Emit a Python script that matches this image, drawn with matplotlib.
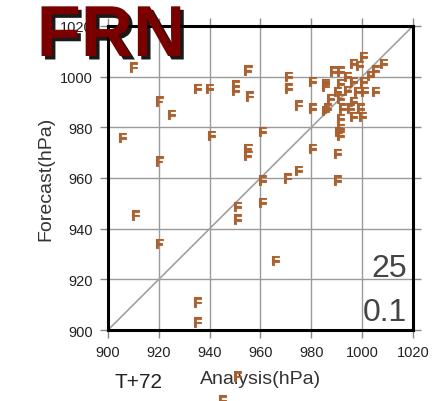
import matplotlib
matplotlib.use("Agg")
import matplotlib.pyplot as plt
import matplotlib.patheffects as pe

plt.rcParams['font.family'] = ['Liberation Sans', 'DejaVu Sans']

# analysis vs forecast central pressure (hPa)
analysis = [910, 935, 940, 950, 950, 955, 955.5, 920, 925, 905.5, 940.6, 960.6,
            955, 955, 920, 960.6, 910.6, 920, 935, 935, 950.8, 950.8, 960.6,
            965.7, 970.5, 974.8, 980.3, 990.6, 990.2, 990.2, 971, 971, 980.3,
            985.4, 974.8, 980.3, 985.4,
            1000.4, 996.5, 999, 1008.3, 1005.1, 988.6, 991.3, 994.1, 1003.1,
            985.4, 991.3, 996.5, 1000.4, 1005.1, 990.2, 994.1, 998, 1001,
            987.4, 991.3, 996.5, 986.2, 992.1, 995.3, 999.2, 991.3, 996.5,
            1000, 991.3, 991.3,
            950.8, 945]
forecast = [1003.4, 995, 995, 996.3, 994.3, 1002.2, 992, 990, 984.8, 975.7, 976.5, 978,
            971.4, 968.6, 966.3, 958.8, 945, 933.9, 910.7, 902.8, 948.5, 943.4, 950.1,
            927.2, 959.6, 962.7, 971.4, 978, 969.4, 958.8, 999.8, 995.1, 997.8,
            995.9, 988.4, 987.2, 986.4,
            1007.7, 1004.9, 1004, 1004.9, 1002.2, 1001.8, 1001.8, 999.8, 1000.2,
            997, 997, 997.8, 997.8, 993.9, 993.9, 994.3, 993.9, 993.9,
            991.1, 991.1, 989.9, 987.2, 987.2, 987.2, 987.2, 983.2, 984,
            984, 979.3, 976.5,
            881.5, 872]

ticks = [900, 920, 940, 960, 980, 1000, 1020]

fig = plt.figure(figsize=(4.32, 4.02), dpi=100)
ax = fig.add_axes([0.25, 0.1766, 0.706, 0.7564])
ax.set_xlim(900, 1020)
ax.set_ylim(900, 1020)
ax.set_xticks(ticks)
ax.set_yticks(ticks)
ax.grid(True, color='#9a9a9a', lw=1)
ax.set_axisbelow(True)
ax.plot([900, 1020], [900, 1020], color='#a0a0a0', lw=1.2, zorder=2)
for s in ax.spines.values():
    s.set_linewidth(2.2)
    s.set_color('black')
ax.tick_params(direction='out', length=6, width=1, color='#888888',
               labelsize=10.5, labelcolor='#222222', top=True, right=True,
               pad=5)

for a, f in zip(analysis, forecast):
    ax.text(a, f, 'F', color='#a8602e', alpha=0.85, fontsize=10, fontweight='heavy',
            ha='center', va='center', clip_on=False, zorder=4,
            path_effects=[pe.withStroke(linewidth=0.8, foreground='#a8602e')])

ax.set_xlabel('Analysis(hPa)', fontsize=14, color='#333333', labelpad=8)
ax.set_ylabel('Forecast(hPa)', fontsize=14, color='#333333', labelpad=4)

fig.text(0.32, 0.025, 'T+72', fontsize=15, color='#222222', ha='center', va='bottom')
ax.text(0.98, 0.204, '25', transform=ax.transAxes, fontsize=23, color='#444444',
        ha='right', va='center')
ax.text(0.98, 0.06, '0.1', transform=ax.transAxes, fontsize=23, color='#444444',
        ha='right', va='center')

fig.text(0.085, 0.99, 'FRN', fontsize=52, fontweight='bold', color='#7a0000',
         ha='left', va='top', zorder=10,
         path_effects=[pe.withSimplePatchShadow(offset=(2.5, -2.5), shadow_rgbFace='black',
                                                alpha=0.9)])

fig.savefig('out.png', dpi=100)
